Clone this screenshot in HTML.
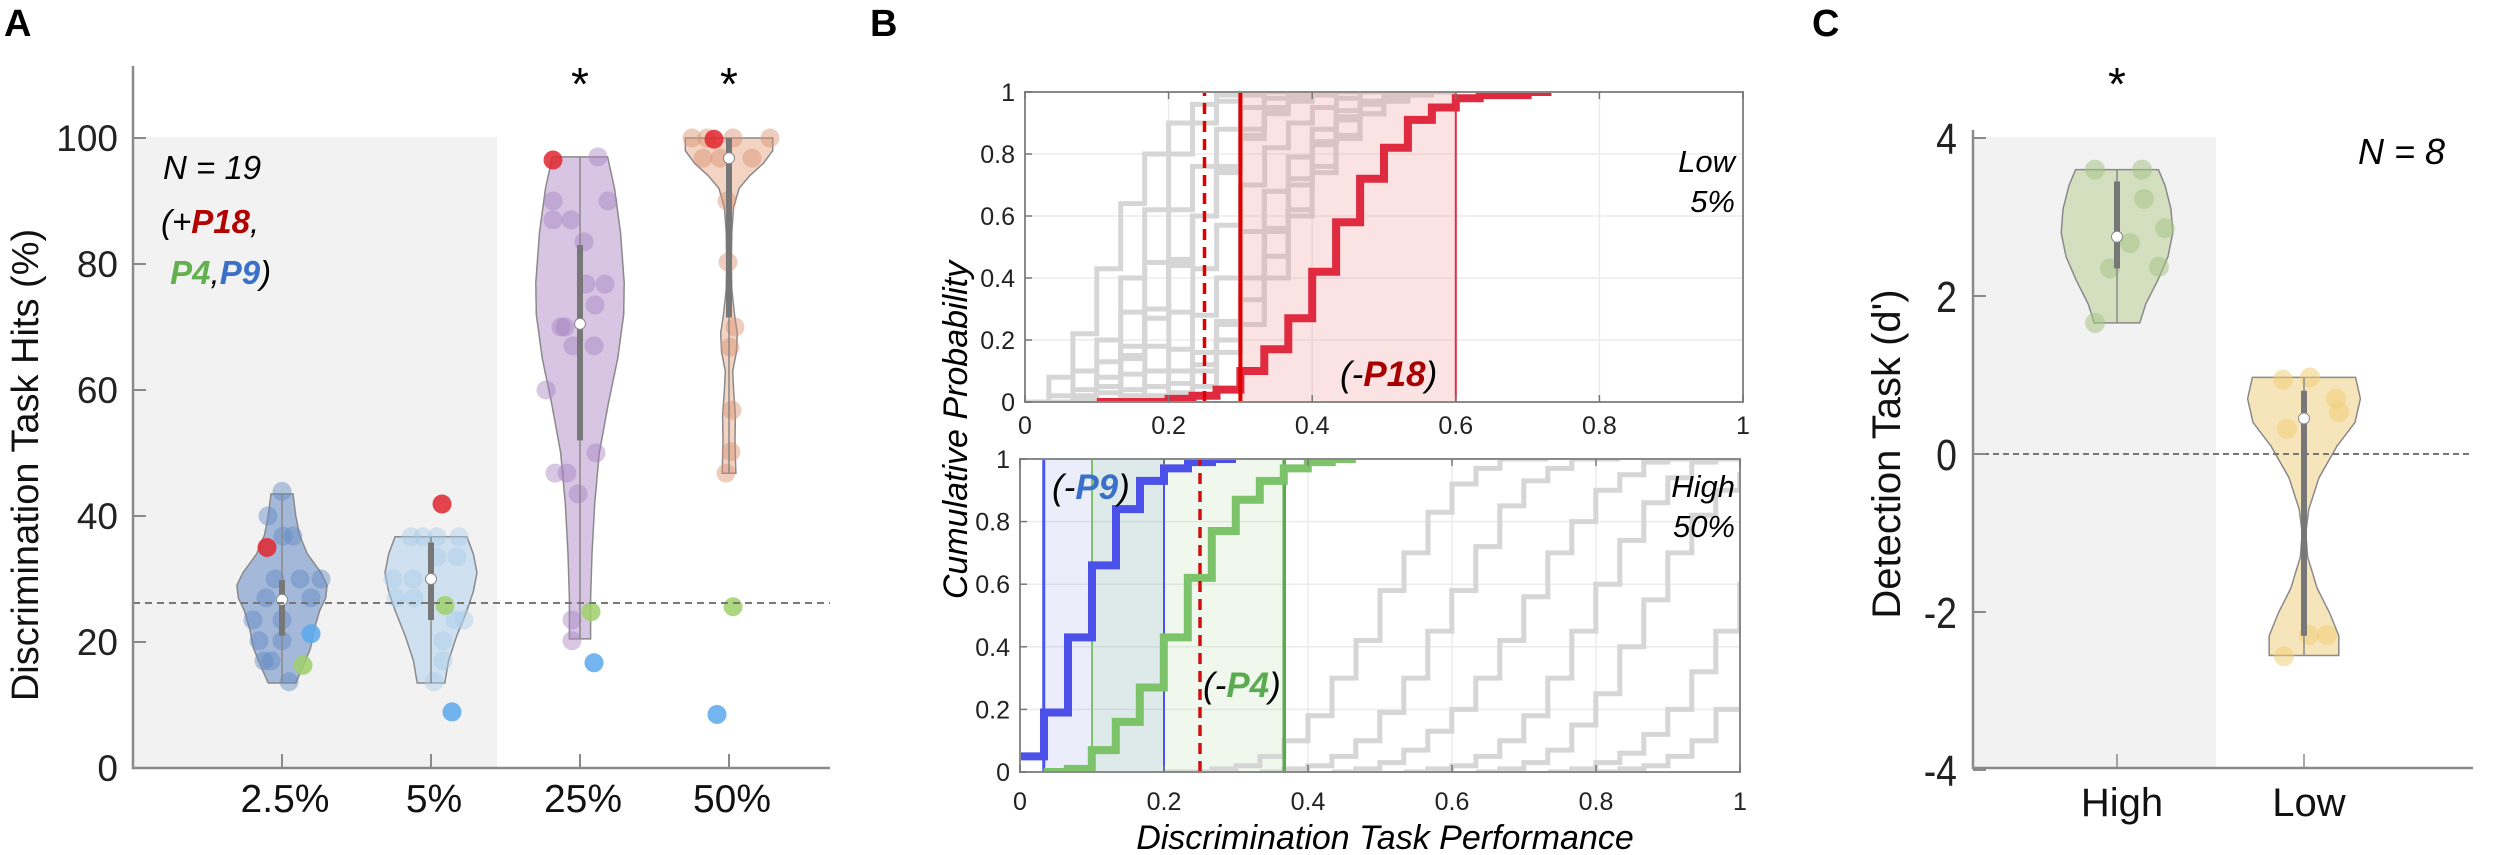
<!DOCTYPE html>
<html><head><meta charset="utf-8"><style>
html,body{margin:0;padding:0;background:#fff;}
svg{display:block;font-family:"Liberation Sans",Arial,sans-serif;}
</style></head><body>
<svg id="fig" width="2500" height="855" viewBox="0 0 2500 855" xmlns="http://www.w3.org/2000/svg">
<defs>
<clipPath id="clipTop"><rect x="1025" y="92" width="718" height="310"/></clipPath>
<clipPath id="clipBot"><rect x="1020" y="459" width="720" height="313"/></clipPath>
</defs>
<text x="4" y="36" font-size="38" font-weight="bold">A</text>
<text x="870" y="36" font-size="38" font-weight="bold">B</text>
<text x="1812" y="36" font-size="38" font-weight="bold">C</text>
<g id="panelA"></g>
<g id="panelB"></g>
<g id="panelC"></g>
</svg>
<script>
// ---------- Panel A data ----------
const aCategories = ["2.5%","5%","25%","50%"];
const aYTicks = [0,20,40,60,80,100];
const aChance = 26.2;
const aVals0 = [43.9,40,36.8,36.8,30,30,30,27,27,23.5,23.5,20.2,20.2,17,17,13.7];
const aJit0 = [0,-14,1,11,-7,18,39,-16,29,-29,0,-23,0,-18,-11,7];
const aVals1 = [30,30,36.7,36.7,36.7,36.7,33.5,33.5,27,27,23.5,23.5,20.2,17,13.7];
const aJit1 = [-38,-18,-20,-8,6,28,6,26,-35,-17,24,33,12,12,3];
const aVals2 = [97,90,87,90,87,83.5,76.8,76.8,73.5,70,70,67,67,60,50,46.8,46.8,43.5,23.5,20.2];
const aJit2 = [18,-27,-27,28,-9,4,6,25,15,-15,-19,-7,14,-34,16,-13,-25,-2,-8,-8];
const aVals3 = [100,100,100,100,96.8,96.8,96.8,90,80.3,70,66.8,56.8,50.2,46.8];
const aJit3 = [-37,-22,4,41,-26,-9,23,-2,-1,6,1,3,2,-3];
const aP18 = [35,41.9,96.5,99.8];
const aP18Jit = [-15,11,-27,-15];
const aP4 = [16.3,25.8,24.8,25.6];
const aP4Jit = [21,14,11,4];
const aP9 = [21.3,8.9,16.7,8.5];
const aP9Jit = [29,21,14,-12];
const aMedian = [26.7,30,70.5,96.8];
const aQ1 = [21,23.5,52,71.5];
const aQ3 = [29.8,35.8,83,100];
const aDens0 = [[43.5,.24],[40,.3],[37,.38],[34,.55],[31,.85],[29,.98],[27,.95],[25,.82],[22,.7],[19,.62],[16,.45],[13.5,.3]];
const aDens1 = [[36.7,.78],[34,.92],[31,1],[28,.92],[25,.78],[21,.56],[17,.38],[13.5,.3]];
const aDens2 = [[97,.6],[92,.75],[85,.88],[77,.96],[72,.95],[65,.82],[58,.62],[50,.42],[42,.32],[34,.26],[27,.23],[20.5,.23]];
const aDens3 = [[100,.95],[98,.95],[96,.75],[94,.45],[92,.22],[89,.1],[85,.06],[80,.05],[76,.06],[72,.12],[69,.18],[66,.16],[63,.08],[60,.1],[56,.14],[52,.13],[49,.14],[46.8,.15]];

// ---------- Panel B data ----------
const bTicks = [0,0.2,0.4,0.6,0.8,1];
const bTickLabels = ["0","0.2","0.4","0.6","0.8","1"];
const trialStep = 1/30;
const topGrayStarts = [0,0,0,0,0.033,0.067,0.1,0.1,0.133,0.067,0.167,0.2];
const topGray0 = [0,.08,.22,.43,.64,.80,.90,.96,.99,1];
const topGray1 = [0,.02,.1,.2,.4,.62,.8,.9,.97,.99,1];
const topGray2 = [0,0,.04,.13,.29,.45,.62,.76,.88,.95,.98,1];
const topGray3 = [0,0,.01,.05,.14,.27,.44,.6,.75,.86,.94,.98,1];
const topGray4 = [0,.02,.08,.18,.3,.46,.6,.74,.85,.93,.97,.99,1];
const topGray5 = [0,.03,.09,.18,.29,.43,.57,.7,.82,.9,.95,.98,1];
const topGray6 = [0,.04,.1,.17,.28,.4,.55,.68,.79,.88,.94,.97,.99,1];
const topGray7 = [0,.02,.05,.1,.16,.26,.4,.55,.7,.83,.91,.96,.99,1];
const topGray8 = [0,.02,.06,.12,.2,.33,.47,.62,.76,.86,.93,.97,.99,1];
const topGray9 = [0,.05,.15,.3,.45,.6,.76,.88,.95,.99,1];
const topGray10 = [0,.03,.1,.25,.4,.56,.72,.84,.92,.97,1];
const topGray11 = [0,.05,.16,.25,.4,.6,.74,.85,.93,.98,1];
const redStart = 0.1;
const redLevels = [0,0,0,.01,.02,.04,.10,.17,.27,.42,.58,.72,.82,.91,.95,.98,.99,.99,1];
const redBand = [0.3,0.6];
const chanceB = 0.25;
const botGrayStarts = [0.2,0.333,0.433,0.533,0.633,0.733,0.8];
const botGray0 = [0,0,.01,.02,.05,.1,.18,.3,.42,.58,.7,.83,.92,.97,1,1];
const botGray1 = [0,.01,.02,.05,.1,.19,.3,.45,.58,.72,.85,.93,.97,1,1];
const botGray2 = [0,.01,.03,.07,.13,.2,.3,.42,.56,.7,.8,.9,.95,.99,1,1];
const botGray3 = [0,.01,.02,.05,.1,.18,.3,.45,.6,.74,.86,.94,.99,1];
const botGray4 = [0,.01,.03,.07,.15,.25,.4,.55,.7,.82,.9,.95];
const botGray5 = [0,.01,.03,.06,.12,.2,.32,.45,.6];
const botGray6 = [0,.01,.02,.05,.1,.2];
const blueStart = 0;
const blueLevels = [.05,.19,.43,.66,.84,.93,.97,.99,1];
const blueBand = [0.033,0.2];
const greenStart = 0.033;
const greenLevels = [0,.01,.07,.16,.27,.43,.62,.77,.87,.93,.97,.99,1];
const greenBand = [0.1,0.367];

// ---------- Panel C data ----------
const cCategories = ["High","Low"];
const cYTicks = [4,2,0,-2,-4];
const cValsHigh = [3.6,3.6,3.23,2.86,2.67,2.35,2.37,1.66];
const cJitHigh = [-22,25,27,48,13,-7,42,-22];
const cValsLow = [0.94,0.97,0.7,0.53,0.32,-2.29,-2.29,-2.56];
const cJitLow = [-21,6,32,35,-17,5,23,-20];
const cMedian = [2.75,0.45];
const cQ1 = [2.35,-2.3];
const cQ3 = [3.45,0.8];
const cDensHigh = [[3.6,.69],[3.4,.8],[3.1,.9],[2.8,.93],[2.5,.85],[2.2,.68],[1.9,.48],[1.66,.38]];
const cDensLow = [[0.97,.86],[0.7,.94],[0.4,.85],[0.1,.55],[-0.3,.25],[-0.7,.08],[-1.0,.03],[-1.3,.06],[-1.7,.22],[-2.0,.42],[-2.3,.58],[-2.55,.58]];

const NS = "http://www.w3.org/2000/svg";
function mk(parent, tag, attrs, txt){
  const e = document.createElementNS(NS, tag);
  for (const k in attrs) e.setAttribute(k, attrs[k]);
  if (txt !== undefined) e.textContent = txt;
  parent.appendChild(e);
  return e;
}
const gA = document.getElementById('panelA');
const gB = document.getElementById('panelB');
const gC = document.getElementById('panelC');

// ===== Panel A =====
const aX0 = 133, aX1 = 830, aYb = 768, aYt = 138;
const ax = i => 282 + 149*i;
const ay = v => aYb - (aYb - aYt) * v / 100;
let el;
el = mk(gA,'rect',{x:aX0,y:137,width:497-aX0,height:aYb-137,fill:'#f2f2f2'});



function violin(g, cx, dens, yf, maxHW, fill, name){
  let d = '';
  dens.forEach((p,i)=>{ d += (i?'L':'M') + (cx + p[1]*maxHW).toFixed(1) + ' ' + yf(p[0]).toFixed(1) + ' '; });
  for (let i = dens.length-1; i >= 0; i--) d += 'L' + (cx - dens[i][1]*maxHW).toFixed(1) + ' ' + yf(dens[i][0]).toFixed(1) + ' ';
  d += 'Z';
  const e = mk(g,'path',{d:d,fill:fill,stroke:'#8a8a8a','stroke-width':1.5});
  
  
  return e;
}
function dots(g, cx, vals, jit, yf, r, fill, op, name){
  vals.forEach((v,i)=>{
    const e = mk(g,'circle',{cx:cx+jit[i],cy:yf(v),r:r,fill:fill,'fill-opacity':op});
    
    
  });
}
function boxStats(g, cx, top, bot, q1, q3, med, yf, name){
  let e = mk(g,'line',{x1:cx,x2:cx,y1:yf(top),y2:yf(bot),stroke:'#8a8a8a','stroke-width':1.5});
  
  
  e = mk(g,'line',{x1:cx,x2:cx,y1:yf(q3),y2:yf(q1),stroke:'#777','stroke-width':6});
  
  
  e = mk(g,'circle',{cx:cx,cy:yf(med),r:5.5,fill:'#fff',stroke:'#888','stroke-width':1});
  
  
}
const aFill = ['#8aa6d0','#c5dcef','#cdb7dc','#f0c9b4'];
const aDot = ['#6287c0','#a9cce9','#a783c2','#da8f6e'];
const aDens = [aDens0,aDens1,aDens2,aDens3];
const aVals = [aVals0,aVals1,aVals2,aVals3];
const aJits = [aJit0,aJit1,aJit2,aJit3];
for (let i = 0; i < 4; i++){
  const cx = ax(i);
  const v = violin(gA, cx, aDens[i], ay, 46, aFill[i], 'violin-' + aCategories[i]);
  v.setAttribute('fill-opacity', i===0 ? 0.75 : 0.8);
  dots(gA, cx, aVals[i], aJits[i], ay, 9.5, aDot[i], 0.45, 'participant-dot');
  const dd = aDens[i];
  boxStats(gA, cx, dd[0][0], dd[dd.length-1][0], aQ1[i], aQ3[i], aMedian[i], ay, 'box-' + aCategories[i]);
  el = mk(gA,'circle',{cx:cx+aP18Jit[i],cy:ay(aP18[i]),r:9.5,fill:'#e0262e','fill-opacity':0.85});
  
  
  el = mk(gA,'circle',{cx:cx+aP4Jit[i],cy:ay(aP4[i]),r:9.5,fill:'#9fd06a','fill-opacity':0.85});
  
  
  el = mk(gA,'circle',{cx:cx+aP9Jit[i],cy:ay(aP9[i]),r:9.5,fill:'#5aa8ec','fill-opacity':0.85});
  
  
}
el = mk(gA,'line',{x1:aX0,x2:aX1,y1:ay(aChance),y2:ay(aChance),stroke:'#777','stroke-width':2,'stroke-dasharray':'7,5'});


el = mk(gA,'path',{d:`M${aX0} 66 V${aYb} H${aX1}`,fill:'none',stroke:'#8a8a8a','stroke-width':2.5});


aYTicks.forEach(t=>{
  let e = mk(gA,'line',{x1:aX0,x2:aX0+13,y1:ay(t),y2:ay(t),stroke:'#8a8a8a','stroke-width':2});
  
  
  e = mk(gA,'text',{x:118,y:ay(t)+13,'font-size':37,'text-anchor':'end',fill:'#222'}, String(t));
  
  
});
aCategories.forEach((c,i)=>{
  let e = mk(gA,'line',{x1:ax(i),x2:ax(i),y1:aYb,y2:aYb-14,stroke:'#8a8a8a','stroke-width':2});
  
  
  e = mk(gA,'text',{x:ax(i)+3,y:812,'font-size':39,'text-anchor':'middle',fill:'#111'}, c);
  
  
});
[2,3].forEach(i=>{
  const e = mk(gA,'text',{x:ax(i),y:100,'font-size':46,'text-anchor':'middle'}, '*');
  
  
});
el = mk(gA,'text',{x:0,y:0,'font-size':38,'text-anchor':'middle',transform:'translate(24 465) rotate(-90) translate(0 14)',fill:'#111'}, 'Discrimination Task Hits (%)');


el = mk(gA,'text',{x:163,y:179,'font-size':33,'font-style':'italic'}, 'N = 19');


el = mk(gA,'text',{x:161,y:233,'font-size':33,'font-style':'italic'});


el.innerHTML = '(+<tspan fill="#b30000" font-weight="bold">P18</tspan>,';
el = mk(gA,'text',{x:161,y:284,'font-size':33,'font-style':'italic'});


el.innerHTML = '&#160;<tspan fill="#62b04e" font-weight="bold">P4</tspan>,<tspan fill="#3a70c8" font-weight="bold">P9</tspan>)';

// ===== Panel B =====
function makeAxes(g, X0, X1, Y0, Y1, tickLabelY, name){
  const bx = v => X0 + (X1-X0)*v;
  const by = v => Y0 - (Y0-Y1)*v;
  bTicks.forEach(t=>{
    let e = mk(g,'line',{x1:bx(t),x2:bx(t),y1:Y1,y2:Y0,stroke:'#ebebeb','stroke-width':1.5});
    
    
    e = mk(g,'line',{x1:X0,x2:X1,y1:by(t),y2:by(t),stroke:'#ebebeb','stroke-width':1.5});
    
    
  });
  return [bx, by];
}
function frame(g, X0, X1, Y0, Y1, tickLabelY, name){
  const bx = v => X0 + (X1-X0)*v;
  const by = v => Y0 - (Y0-Y1)*v;
  let e = mk(g,'rect',{x:X0,y:Y1,width:X1-X0,height:Y0-Y1,fill:'none',stroke:'#8a8a8a','stroke-width':2});
  
  
  bTicks.forEach((t,i)=>{
    e = mk(g,'line',{x1:bx(t),x2:bx(t),y1:Y0,y2:Y0-7,stroke:'#777','stroke-width':1.5});
    
    
    e = mk(g,'line',{x1:bx(t),x2:bx(t),y1:Y1,y2:Y1+7,stroke:'#777','stroke-width':1.5});
    
    
    e = mk(g,'line',{x1:X0,x2:X0+7,y1:by(t),y2:by(t),stroke:'#777','stroke-width':1.5});
    
    
    e = mk(g,'text',{x:bx(t),y:tickLabelY,'font-size':25,'text-anchor':'middle',fill:'#222'}, bTickLabels[i]);
    
    
    e = mk(g,'text',{x:X0-10,y:by(t)+9,'font-size':25,'text-anchor':'end',fill:'#222'}, bTickLabels[i]);
    
    
  });
}
function stepPath(start, levels, bx, by){
  let d = '';
  levels.forEach((lv,i)=>{
    const xa = bx(start + i*trialStep), xb = bx(start + (i+1)*trialStep);
    d += (i ? 'L' : 'M') + xa.toFixed(1) + ' ' + by(lv).toFixed(1) + ' L' + xb.toFixed(1) + ' ' + by(lv).toFixed(1) + ' ';
  });
  return d;
}
function curve(g, start, levels, bx, by, color, w, clip, name){
  const e = mk(g,'path',{d:stepPath(start, levels, bx, by),fill:'none',stroke:color,'stroke-width':w,'clip-path':clip,'stroke-linejoin':'miter'});
  
  
}
function vline(g, v, bx, Y0, Y1, color, w, dash, name){
  const a = {x1:bx(v),x2:bx(v),y1:Y0,y2:Y1,stroke:color,'stroke-width':w};
  if (dash) a['stroke-dasharray'] = dash;
  const e = mk(g,'line',a);
  
  
}
// top subplot
const gBt = mk(gB,'g',{});


const [tx, ty] = makeAxes(gBt, 1025, 1743, 402, 92, 434, 'low');
const topGrays = [topGray0,topGray1,topGray2,topGray3,topGray4,topGray5,topGray6,topGray7,topGray8,topGray9,topGray10,topGray11];
topGrays.forEach((lv,i)=> curve(gBt, topGrayStarts[i], lv, tx, ty, '#d6d6d6', 5, 'url(#clipTop)', 'participant-cdf'));
el = mk(gBt,'rect',{x:tx(redBand[0]),y:92,width:tx(redBand[1])-tx(redBand[0]),height:310,fill:'rgb(240,140,140)','fill-opacity':0.24});


curve(gBt, redStart, redLevels, tx, ty, '#df2a40', 8, 'url(#clipTop)', 'p18-cdf');
vline(gBt, redBand[0], tx, 402, 92, '#e00000', 4, null, 'p18-band-left');
vline(gBt, redBand[1], tx, 402, 92, '#e03040', 2, null, 'p18-band-right');
vline(gBt, chanceB, tx, 402, 92, '#e00000', 3.5, '11,7', 'chance-line');
frame(gBt, 1025, 1743, 402, 92, 434, 'low');
el = mk(gBt,'text',{x:1735,y:172,'font-size':31,'font-style':'italic','text-anchor':'end'}, 'Low');


el = mk(gBt,'text',{x:1735,y:212,'font-size':31,'font-style':'italic','text-anchor':'end'}, '5%');


el = mk(gBt,'text',{x:1340,y:386,'font-size':35,'font-style':'italic'});


el.innerHTML = '(-<tspan fill="#a80000" font-weight="bold">P18</tspan>)';
// bottom subplot
const gBb = mk(gB,'g',{});


const [bx2, by2] = makeAxes(gBb, 1020, 1740, 772, 459, 810, 'high');
el = mk(gBb,'rect',{x:bx2(blueBand[0]),y:459,width:bx2(blueBand[1])-bx2(blueBand[0]),height:313,fill:'rgb(120,140,220)','fill-opacity':0.15});


el = mk(gBb,'rect',{x:bx2(greenBand[0]),y:459,width:bx2(greenBand[1])-bx2(greenBand[0]),height:313,fill:'rgb(140,200,120)','fill-opacity':0.13});


const botGrays = [botGray0,botGray1,botGray2,botGray3,botGray4,botGray5,botGray6];
botGrays.forEach((lv,i)=> curve(gBb, botGrayStarts[i], lv, bx2, by2, '#d6d6d6', 5, 'url(#clipBot)', 'participant-cdf'));
vline(gBb, blueBand[0], bx2, 772, 459, '#4a55ee', 3, null, 'p9-band-left');
vline(gBb, blueBand[1], bx2, 772, 459, '#4a55ee', 2, null, 'p9-band-right');
vline(gBb, greenBand[0], bx2, 772, 459, '#7cc36a', 2, null, 'p4-band-left');
vline(gBb, greenBand[1], bx2, 772, 459, '#5aaa50', 3.5, null, 'p4-band-right');
curve(gBb, greenStart, greenLevels, bx2, by2, '#7cc36a', 8, 'url(#clipBot)', 'p4-cdf');
curve(gBb, blueStart, blueLevels, bx2, by2, '#4a50e8', 8, 'url(#clipBot)', 'p9-cdf');
vline(gBb, chanceB, bx2, 772, 459, '#d01010', 3.5, '11,7', 'chance-line');
frame(gBb, 1020, 1740, 772, 459, 810, 'high');
el = mk(gBb,'text',{x:1735,y:497,'font-size':31,'font-style':'italic','text-anchor':'end'}, 'High');


el = mk(gBb,'text',{x:1735,y:537,'font-size':31,'font-style':'italic','text-anchor':'end'}, '50%');


el = mk(gBb,'text',{x:1052,y:499,'font-size':35,'font-style':'italic'});


el.innerHTML = '(-<tspan fill="#3a70c8" font-weight="bold">P9</tspan>)';
el = mk(gBb,'text',{x:1203,y:697,'font-size':35,'font-style':'italic'});


el.innerHTML = '(-<tspan fill="#5aaa50" font-weight="bold">P4</tspan>)';
el = mk(gB,'text',{x:1385,y:849,'font-size':34,'font-style':'italic','text-anchor':'middle'}, 'Discrimination Task Performance');


el = mk(gB,'text',{x:0,y:0,'font-size':34,'font-style':'italic','text-anchor':'middle',transform:'translate(955 430) rotate(-90) translate(0 12)'}, 'Cumulative Probability');



// ===== Panel C =====
const cX0 = 1973, cX1 = 2473;
const cy = v => 454 - 79*v;
const cx = i => 2117 + 187*i;
el = mk(gC,'rect',{x:cX0,y:137,width:2216-cX0,height:768-137,fill:'#f2f2f2'});


const cDens = [cDensHigh, cDensLow];
const cVals = [cValsHigh, cValsLow];
const cJits = [cJitHigh, cJitLow];
const cFill = ['#d3dfbf','#f6e5bb'];
const cDot = ['#a8c488','#f0cd78'];
for (let i = 0; i < 2; i++){
  violin(gC, cx(i), cDens[i], cy, 60, cFill[i], 'violin-' + cCategories[i]);
  dots(gC, cx(i), cVals[i], cJits[i], cy, 10, cDot[i], 0.55, 'participant-dot');
  const dd = cDens[i];
  boxStats(gC, cx(i), dd[0][0], dd[dd.length-1][0], cQ1[i], cQ3[i], cMedian[i], cy, 'box-' + cCategories[i]);
}
el = mk(gC,'line',{x1:cX0,x2:cX1,y1:cy(0),y2:cy(0),stroke:'#777','stroke-width':2,'stroke-dasharray':'6,4'});


el = mk(gC,'path',{d:`M${cX0} 130 V768 H${cX1}`,fill:'none',stroke:'#8a8a8a','stroke-width':2.5});


cYTicks.forEach(t=>{
  let e = mk(gC,'line',{x1:cX0,x2:cX0+13,y1:cy(t),y2:cy(t),stroke:'#8a8a8a','stroke-width':2});
  
  
  e = mk(gC,'text',{x:1957,y:cy(t)+16,'font-size':44,'text-anchor':'end',fill:'#222',transform:`translate(${1957*0.15} 0) scale(0.85 1)`}, String(t));
  
  
});
cCategories.forEach((c,i)=>{
  let e = mk(gC,'line',{x1:cx(i),x2:cx(i),y1:768,y2:754,stroke:'#8a8a8a','stroke-width':1.5});
  
  
  e = mk(gC,'text',{x:cx(i)+5,y:816,'font-size':40,'text-anchor':'middle',fill:'#111'}, c);
  
  
});
el = mk(gC,'text',{x:cx(0),y:100,'font-size':46,'text-anchor':'middle'}, '*');


el = mk(gC,'text',{x:2358,y:164,'font-size':36,'font-style':'italic'}, 'N = 8');


el = mk(gC,'text',{x:0,y:0,'font-size':40,'text-anchor':'middle',transform:'translate(1886 454) rotate(-90) translate(0 14)',fill:'#111'}, "Detection Task (d')");


</script>
</body></html>
